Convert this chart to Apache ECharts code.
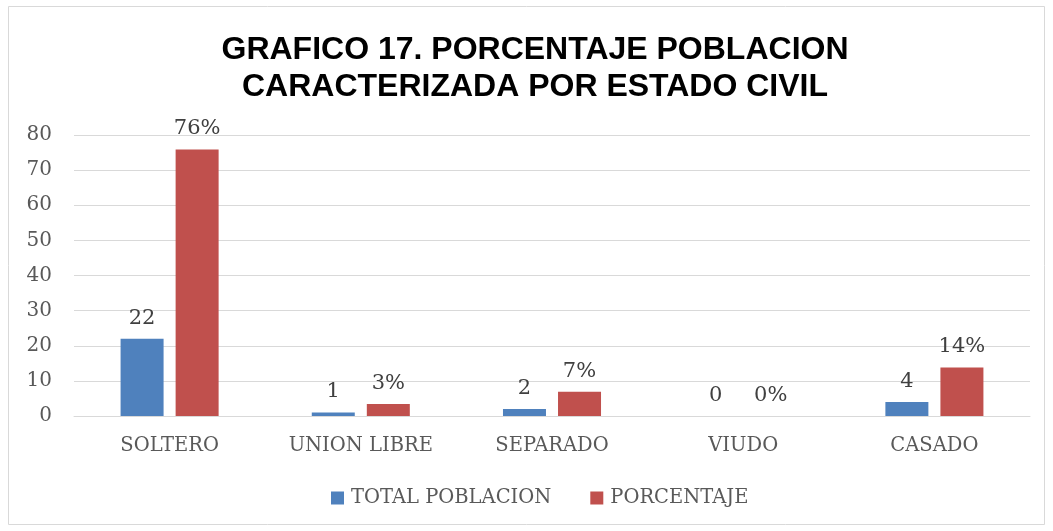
<!DOCTYPE html>
<html>
<head>
<meta charset="utf-8">
<script src="https://cdn.jsdelivr.net/npm/echarts@6/dist/echarts.min.js"></script>
<style>
  html, body { margin: 0; padding: 0; background: #fff; }
  #chart { width: 1053px; height: 531px; }
</style>
</head>
<body>
<div id="chart"></div>
<script>
// datos del grafico
const categorias = ['SOLTERO', 'UNION LIBRE', 'SEPARADO', 'VIUDO', 'CASADO']
const totalPoblacion = [22, 1, 2, 0, 4]
const porcentaje = [75.9, 3.45, 6.9, 0, 13.8]

const fuente = 'DejaVu Serif'
const gris = '#595959'

const myChart = echarts.init(document.getElementById('chart'), null, { renderer: 'canvas' })

const option = {
  animation: false,
  backgroundColor: '#fff',
  title: {
    text: 'GRAFICO 17. PORCENTAJE POBLACION\nCARACTERIZADA POR ESTADO CIVIL',
    left: 530,
    textAlign: 'center',
    top: 27,
    textStyle: {
      fontFamily: 'Liberation Sans',
      fontWeight: 'bold',
      fontSize: 32,
      lineHeight: 37,
      color: '#000',
    },
  },
  graphic: [
    {
      type: 'rect',
      shape: { x: 8.5, y: 6.5, width: 1036, height: 518 },
      style: { fill: 'none', stroke: '#d9d9d9', lineWidth: 1 },
      silent: true,
    },
  ],
  legend: {
    bottom: 18,
    left: 326,
    itemWidth: 13,
    itemHeight: 13,
    itemGap: 39,
    icon: 'rect',
    textStyle: { fontFamily: fuente, fontSize: 19.5, color: gris, padding: [0, 0, 0, 2] },
    data: ['TOTAL POBLACION', 'PORCENTAJE'],
  },
  grid: {
    left: 74,
    right: 23,
    top: 135,
    bottom: 115,
  },
  xAxis: {
    type: 'category',
    data: categorias,
    axisLine: { show: true, lineStyle: { color: '#d9d9d9', width: 1 } },
    axisTick: { show: false },
    axisLabel: { fontFamily: fuente, fontSize: 19.5, color: gris, margin: 20 },
  },
  yAxis: {
    type: 'value',
    min: 0,
    max: 80,
    interval: 10,
    axisLine: { show: false },
    axisTick: { show: false },
    axisLabel: { fontFamily: fuente, fontSize: 20, color: gris, margin: 22 },
    splitLine: { lineStyle: { color: '#d9d9d9', width: 1 } },
  },
  series: [
    {
      name: 'TOTAL POBLACION',
      type: 'bar',
      data: totalPoblacion,
      barWidth: 43,
      barGap: '28%',
      itemStyle: { color: '#4f81bd' },
      label: {
        show: true,
        position: 'top',
        distance: 10,
        fontFamily: fuente,
        fontSize: 21,
        color: '#404040',
      },
    },
    {
      name: 'PORCENTAJE',
      type: 'bar',
      data: porcentaje,
      barWidth: 43,
      itemStyle: { color: '#c0504d' },
      label: {
        show: true,
        position: 'top',
        distance: 10,
        fontFamily: fuente,
        fontSize: 21,
        color: '#404040',
        formatter: function (p) {
          return Math.round(p.value) + '%'
        },
      },
    },
  ],
}

myChart.setOption(option)
</script>
</body>
</html>
